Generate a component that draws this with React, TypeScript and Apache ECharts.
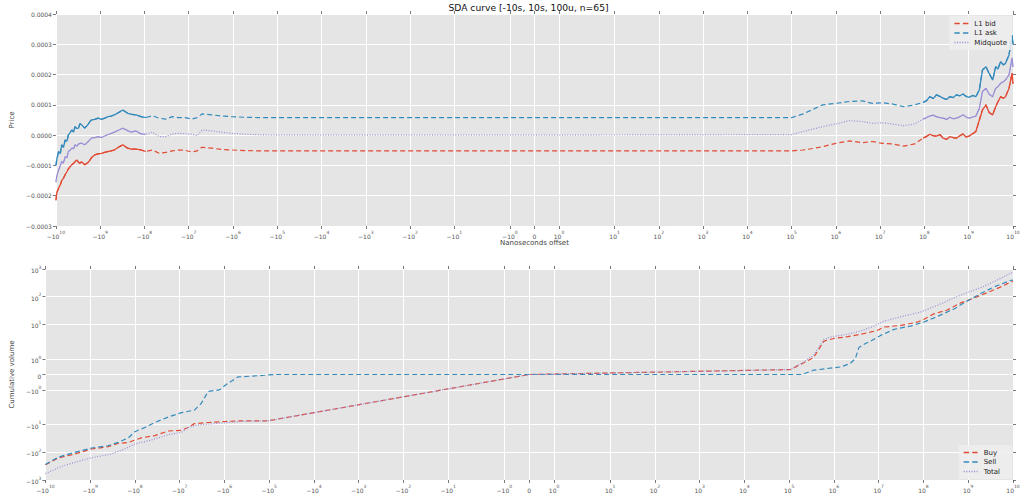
import React, { useEffect, useRef } from 'react';
import * as echarts from 'echarts';

// ---------- text ----------
const TITLE = 'SDA curve [-10s, 10s, 100u, n=65]';
const X_NAME = 'Nanoseconds offset';
const PRICE_NAME = 'Price';
const VOLUME_NAME = 'Cumulative volume';
const PRICE_SERIES = ['L1 bid', 'L1 ask', 'Midquote'];
const VOLUME_SERIES = ['Buy', 'Sell', 'Total'];

// ---------- tick values ----------
const X_TICKS = [
  -1e10, -1e9, -1e8, -1e7, -1e6, -1e5, -1e4, -1e3, -1e2, -1e1, -1, 0,
  1, 1e1, 1e2, 1e3, 1e4, 1e5, 1e6, 1e7, 1e8, 1e9, 1e10,
];
const VOL_TICKS = [-1000, -100, -10, -1, 0, 1, 10, 100, 1000];
const PRICE_MIN = -0.0003;
const PRICE_MAX = 0.0004;
const PRICE_STEP = 0.0001;

// ---------- top panel data (x in nanoseconds) ----------
const priceX = [
  -1e10, -9.55e9, -8.71e9, -7.94e9, -7.41e9, -6.76e9, -6.17e9, -5.62e9, -5.25e9, -4.79e9,
  -4.37e9, -3.98e9, -3.72e9, -3.39e9, -3.09e9, -2.88e9, -2.63e9, -2.24e9, -1.86e9, -1.7e9,
  -1.58e9, -1.32e9, -1.12e9, -9.33e8, -7.94e8, -6.61e8, -5.62e8, -4.79e8, -3.89e8, -3.09e8,
  -2.4e8, -2.0e8, -1.55e8, -1.2e8, -9.33e7, -6.61e7, -4.68e7, -3.31e7, -2.34e7, -1.7e7,
  -1.2e7, -8.51e6, -6.46e6, -5.01e6, -3.02e6, -1.82e6, -1.07e6, -5.5e5, -2.51e5, -1e5,
  -1e3, 0, 1e3, 1e5,
  1.82e5, 3.02e5, 5.01e5, 1e6, 2.0e6, 3.98e6, 6.61e6, 1.1e7, 1.86e7, 3.39e7,
  6.03e7, 9.33e7, 1.12e8, 1.32e8, 1.58e8, 1.86e8, 2.24e8, 2.63e8, 3.16e8, 3.72e8,
  4.47e8, 5.25e8, 6.31e8, 7.41e8, 8.71e8, 1.02e9, 1.23e9, 1.45e9, 1.74e9, 2.04e9,
  2.45e9, 2.88e9, 3.47e9, 4.07e9, 4.57e9, 5.25e9, 6.03e9, 6.76e9, 8.13e9, 9.55e9,
  1e10,
];
const askY = [
  -0.0001, -0.00008, -0.000054, -0.00006, -0.000032, -0.00004, -0.000016, -0.00002, 0, 0.000008,
  0.000017, 0.00001, 0.000028, 0.000022, 0.000023, 0.000038, 0.000034, 0.000023, 0.000036, 0.000045,
  0.00005, 0.000052, 0.000056, 0.000052, 0.000056, 0.000061, 0.000063, 0.000067, 0.000074, 0.000083,
  0.000072, 0.000069, 0.000067, 0.000061, 0.000058, 0.000064, 0.000056, 0.000053, 0.000061, 0.000058,
  0.000058, 0.000053, 0.000058, 0.00007, 0.000067, 0.000063, 0.000061, 0.000059, 0.000058, 0.000058,
  0.000058, 0.000058, 0.000058, 0.000058,
  0.00007, 0.000085, 0.0001, 0.000105, 0.000111, 0.000113, 0.000105, 0.000107, 0.000103, 0.000094,
  0.0001, 0.000108, 0.000114, 0.000127, 0.000121, 0.000133, 0.000128, 0.000122, 0.000118, 0.000127,
  0.000124, 0.000133, 0.00013, 0.000136, 0.000128, 0.000125, 0.000131, 0.000127, 0.00015, 0.000215,
  0.000226, 0.000204, 0.000182, 0.000226, 0.000218, 0.000243, 0.000232, 0.000237, 0.000265, 0.00033,
  0.0003,
];
const midY = [
  -0.000155, -0.000135, -0.000115, -0.0001, -0.000087, -0.000092, -0.000071, -0.000075, -0.000054, -0.00005,
  -0.000043, -0.000045, -0.000032, -0.000036, -0.00003, -0.000027, -0.000027, -0.000032, -0.000021, -0.000015,
  -0.00001, -0.000008, -0.000005, -0.000008, -0.000003, 0.000002, 0.000006, 0.00001, 0.000016, 0.000023,
  0.000015, 0.00001, 0.000014, 0.000004, 0.000003, 0.00001, -0.000005, -0.000005, 0.000004, 0.000006,
  0.000005, 0.000003, -0.000002, 0.000017, 0.000014, 0.00001, 0.000006, 0.000003, 0.000001, 0,
  0, 0, 0.000001, 0.000002,
  0.000012, 0.00002, 0.000028, 0.000037, 0.000048, 0.000045, 0.000039, 0.000041, 0.000037, 0.000031,
  0.000037, 0.000053, 0.000058, 0.000063, 0.000066, 0.000061, 0.000058, 0.000056, 0.000052, 0.000059,
  0.000054, 0.000056, 0.000061, 0.000067, 0.00006, 0.000056, 0.00006, 0.000063, 0.000089, 0.000144,
  0.000155, 0.000135, 0.000127, 0.000155, 0.00016, 0.000171, 0.000176, 0.000182, 0.000199, 0.000255,
  0.000225,
];
const bidY = [
  -0.000215, -0.00019, -0.000175, -0.000164, -0.00015, -0.000142, -0.00013, -0.00012, -0.000112, -0.000104,
  -0.000098, -0.000093, -0.000088, -0.000082, -0.00009, -0.000093, -0.000088, -0.000098, -0.00009, -0.000082,
  -0.000075, -0.000065, -0.000062, -0.00006, -0.000057, -0.000054, -0.000052, -0.000049, -0.00004, -0.000032,
  -0.000043, -0.000046, -0.000046, -0.000049, -0.000054, -0.000049, -0.00006, -0.000057, -0.000052, -0.000049,
  -0.00005, -0.000056, -0.000052, -0.00004, -0.000043, -0.000047, -0.000049, -0.000051, -0.000052, -0.000052,
  -0.000052, -0.000052, -0.000052, -0.000052,
  -0.000049, -0.000044, -0.000038, -0.000027, -0.000019, -0.000025, -0.000021, -0.000027, -0.000029, -0.000036,
  -0.000029, -0.00001, -0.000004, 0.000003, -0.000002, -0.000003, 0.000002, -0.00001, -0.000014, -0.000005,
  -0.000008, -0.00001, -0.000002, 0.000004, -0.000006, -0.000003, 0.000005, 0.000012, 0.00005, 0.000083,
  0.0001, 0.000075, 0.000067, 0.000094, 0.00011, 0.000127, 0.000122, 0.000127, 0.000155, 0.000205,
  0.00017,
];

// ---------- bottom panel data ----------
const sellX = [
  -1e10, -5.2e9, -2.2e9, -9.3e8, -4.0e8, -2.4e8, -1.4e8, -1.0e8, -6.0e7, -3.6e7,
  -1.8e7, -9.1e6, -4.7e6, -3.3e6, -2.3e6, -1.3e6, -8.4e5, -5.0e5, -1.26e5, -8e4,
  0, 1.95e5, 3.5e5, 7.1e5, 1.4e6, 2.3e6, 3.0e6, 3.6e6, 4.7e6, 6.6e6,
  1.1e7, 2.2e7, 5.1e7, 1.0e8, 2.0e8, 4.8e8, 9.5e8, 1.9e9, 3.7e9, 8.7e9, 1e10,
];
const sellY = [
  -275, -150, -100, -70, -58, -44, -30, -18, -12.7, -8.4,
  -5.3, -3.7, -3.0, -1.88, -1.1, -1.0, -0.58, -0.16, -0.05, 0,
  0, 0, 0.28, 0.39, 0.49, 0.71, 1.04, 1.75, 1.97, 2.5,
  4.0, 6.6, 8.7, 12, 19, 36, 70, 130, 222, 385, 400,
];
const buyX = [
  -1e10, -5.2e9, -2.2e9, -9.3e8, -4.0e8, -2.4e8, -1.4e8, -7.2e7, -3.6e7, -1.8e7,
  -9.1e6, -6.5e6, -4.7e6, -2.3e6, -1.0e6, -4.3e5, -1.07e5, 0, 1.07e5, 2.1e5,
  3.5e5, 6.0e5, 1.0e6, 2.0e6, 4.0e6, 9.3e6, 1.3e7, 3.1e7, 7.2e7, 1.0e8,
  1.7e8, 3.4e8, 6.8e8, 1.1e9, 2.6e9, 5.2e9, 1e10,
];
const buyY = [
  -280, -160, -115, -76, -63, -48, -44, -30, -25, -17,
  -16, -12.7, -9.2, -8.4, -7.7, -7.3, -7.3, 0, 0.32, 0.76,
  1.1, 2.5, 3.1, 3.6, 4.4, 6.0, 8.0, 9.2, 12, 15,
  24, 33, 60, 79, 138, 222, 370,
];
const totalX = [
  -1e10, -4.4e9, -2.2e9, -9.3e8, -3.4e8, -1.7e8, -1.0e8, -4.3e7, -1.8e7, -9.1e6,
  -6.5e6, -3.9e6, -1.66e6, -4.3e5, -1.07e5, 0, 1.07e5, 2.1e5, 3.5e5, 6.0e5,
  9.1e5, 2.0e6, 4.0e6, 7.8e6, 1.3e7, 3.6e7, 8.7e7, 2.0e8, 4.8e8, 9.5e8,
  2.2e9, 4.5e9, 1e10,
];
const totalY = [
  -590, -325, -230, -158, -115, -76, -50, -36, -23, -19,
  -12.7, -10.2, -9.2, -7.7, -7.3, 0, 0.32, 0.82, 1.25, 2.9,
  3.6, 4.4, 5.8, 8.7, 13, 20, 28, 48, 91, 140,
  234, 404, 780,
];

// ---------- style ----------
const RED = '#E24A33';
const BLUE = '#348ABD';
const PURPLE = '#988ED5';
const FONT = 'DejaVu Sans';
const DASH_ICON = 'path://M0,0h5v1.2h-5zM8,0h5v1.2h-5z';
const DOT_ICON = 'path://M0,0h1v1.2h-1zM2.4,0h1v1.2h-1zM4.8,0h1v1.2h-1zM7.2,0h1v1.2h-1zM9.6,0h1v1.2h-1zM12,0h1v1.2h-1z';

// symmetric log scale (linthresh 2, linscale 1, base 10)
const LT = 2;
const LS = 1 / (1 - 1 / 10);
const sl = (v: number) => {
  const a = Math.abs(v);
  if (a <= LT) return v * LS;
  return Math.sign(v) * LT * (LS + Math.log10(a / LT));
};

const powLabel = (v: number) => {
  if (v === 0) return '{n|0}';
  const e = Math.round(Math.log10(Math.abs(v)));
  return `{n|${v < 0 ? '\u2212' : ''}10}{s|${e}}`;
};
const makeFormatter = (ticks: number[]) => (val: number) => {
  let best = ticks[0];
  let bd = Infinity;
  for (const t of ticks) {
    const d = Math.abs(sl(t) - val);
    if (d < bd) { bd = d; best = t; }
  }
  return powLabel(best);
};

const rich = {
  n: { fontSize: 6, lineHeight: 9, verticalAlign: 'bottom', color: '#555', fontFamily: FONT },
  s: { fontSize: 4.5, lineHeight: 5, verticalAlign: 'top', color: '#555', fontFamily: FONT },
};

const pts = (xs: number[], ys: number[]) => xs.map((x, i) => [sl(x), ys[i]]);
const ptsLog = (xs: number[], ys: number[]) => xs.map((x, i) => [sl(x), sl(ys[i])]);
const subset = (xs: number[], ys: number[], f: (x: number) => boolean) => {
  const ox: number[] = [];
  const oy: number[] = [];
  xs.forEach((x, i) => { if (f(x)) { ox.push(x); oy.push(ys[i]); } });
  return pts(ox, oy);
};

const XMAX = sl(1e10);
const YVMAX = sl(1000);
const xTickT = X_TICKS.map(sl);
const volTickT = VOL_TICKS.map(sl);

const tickStyle = { show: true, inside: false, length: 3, lineStyle: { color: '#555', width: 0.8 } };
const splitStyle = { show: true, lineStyle: { color: '#ffffff', width: 1 } };
const noLine = { show: false, onZero: false };

function buildOption() {
  const xMain = (grid: number, name?: string) => ({
    type: 'value', gridIndex: grid, min: -XMAX, max: XMAX, position: 'bottom',
    name, nameLocation: 'middle', nameGap: 13,
    nameTextStyle: { fontSize: 7, color: '#444', fontFamily: FONT },
    axisLine: noLine,
    axisTick: { ...tickStyle, customValues: xTickT },
    axisLabel: { show: true, customValues: xTickT, margin: 4, formatter: makeFormatter(X_TICKS), rich },
    splitLine: splitStyle,
  });
  const xTop = (grid: number) => ({
    type: 'value', gridIndex: grid, min: -XMAX, max: XMAX, position: 'top',
    axisLine: noLine,
    axisTick: { ...tickStyle, customValues: xTickT },
    axisLabel: { show: false },
    splitLine: { show: false },
  });

  const lineSeries = (name: string, data: any[], color: string, type: any, xi: number, yi: number, width = 1.2, z = 2) => ({
    type: 'line', name, data, xAxisIndex: xi, yAxisIndex: yi, symbol: 'none', showSymbol: false,
    lineStyle: { color, width, type }, itemStyle: { color }, z, silent: true,
  });

  const DASH = [5, 3];
  const DOT = [1, 1.6];
  const farLeft = (x: number) => x <= -9e7;
  const farRight = (x: number) => x >= 9e7;

  const legendBase = {
    orient: 'vertical', right: 12, itemWidth: 14, itemHeight: 1.5, itemGap: 2.5,
    backgroundColor: 'rgba(238,238,238,0.85)',
    textStyle: { fontSize: 7, color: '#222', fontFamily: FONT, padding: [0, 0, 0, 1] },
  };

  return {
    animation: false,
    backgroundColor: '#ffffff',
    textStyle: { fontFamily: FONT },
    graphic: [
      {
        type: 'text', x: 528.5, y: 3, z: 100,
        style: {
          text: TITLE, textAlign: 'center', textVerticalAlign: 'top',
          fontSize: 9.2, fontFamily: FONT, fill: '#111',
        },
      },
    ],
    grid: [
      { left: 44, right: 11, top: 14, height: 212, show: true, backgroundColor: '#E5E5E5', borderWidth: 0 },
      { left: 44, right: 11, top: 269, height: 211, show: true, backgroundColor: '#E5E5E5', borderWidth: 0 },
    ],
    xAxis: [xMain(0, X_NAME), xTop(0), xMain(1), xTop(1)],
    yAxis: [
      {
        type: 'value', gridIndex: 0, min: PRICE_MIN, max: PRICE_MAX, interval: PRICE_STEP,
        name: PRICE_NAME, nameLocation: 'middle', nameGap: 33,
        nameTextStyle: { fontSize: 7, color: '#444', fontFamily: FONT },
        axisLine: noLine, axisTick: tickStyle,
        axisLabel: {
          margin: 4, fontSize: 6, color: '#555', fontFamily: FONT,
          formatter: (v: number) => v.toFixed(4).replace('-', '\u2212'),
        },
        splitLine: splitStyle,
      },
      {
        type: 'value', gridIndex: 0, position: 'right', min: PRICE_MIN, max: PRICE_MAX, interval: PRICE_STEP,
        axisLine: noLine, axisTick: tickStyle, axisLabel: { show: false }, splitLine: { show: false },
      },
      {
        type: 'value', gridIndex: 1, min: -YVMAX, max: YVMAX,
        name: VOLUME_NAME, nameLocation: 'middle', nameGap: 22,
        nameTextStyle: { fontSize: 7, color: '#444', fontFamily: FONT },
        axisLine: noLine,
        axisTick: { ...tickStyle, customValues: volTickT },
        axisLabel: { customValues: volTickT, margin: 4, formatter: makeFormatter(VOL_TICKS), rich },
        splitLine: splitStyle,
      },
      {
        type: 'value', gridIndex: 1, position: 'right', min: -YVMAX, max: YVMAX,
        axisLine: noLine,
        axisTick: { ...tickStyle, customValues: volTickT },
        axisLabel: { show: false }, splitLine: { show: false },
      },
    ],
    legend: [
      {
        ...legendBase, top: 16, padding: [4, 5, 4, 5],
        data: [
          { name: PRICE_SERIES[0], icon: DASH_ICON },
          { name: PRICE_SERIES[1], icon: DASH_ICON },
          { name: PRICE_SERIES[2], icon: DOT_ICON },
        ],
      },
      {
        ...legendBase, top: 445, padding: [4, 12, 4, 5],
        data: [
          { name: VOLUME_SERIES[0], icon: DASH_ICON },
          { name: VOLUME_SERIES[1], icon: DASH_ICON },
          { name: VOLUME_SERIES[2], icon: DOT_ICON },
        ],
      },
    ],
    series: [
      lineSeries(PRICE_SERIES[0], pts(priceX, bidY), RED, DASH, 0, 0),
      lineSeries(PRICE_SERIES[1], pts(priceX, askY), BLUE, DASH, 0, 0),
      lineSeries(PRICE_SERIES[2], pts(priceX, midY), PURPLE, DOT, 0, 0),
      lineSeries(PRICE_SERIES[0], subset(priceX, bidY, farLeft), RED, 'solid', 0, 0, 1.3, 3),
      lineSeries(PRICE_SERIES[0], subset(priceX, bidY, farRight), RED, 'solid', 0, 0, 1.3, 3),
      lineSeries(PRICE_SERIES[1], subset(priceX, askY, farLeft), BLUE, 'solid', 0, 0, 1.3, 3),
      lineSeries(PRICE_SERIES[1], subset(priceX, askY, farRight), BLUE, 'solid', 0, 0, 1.3, 3),
      lineSeries(PRICE_SERIES[2], subset(priceX, midY, farLeft), PURPLE, 'solid', 0, 0, 1.2, 3),
      lineSeries(PRICE_SERIES[2], subset(priceX, midY, farRight), PURPLE, 'solid', 0, 0, 1.2, 3),
      lineSeries(VOLUME_SERIES[0], ptsLog(buyX, buyY), RED, DASH, 2, 2),
      lineSeries(VOLUME_SERIES[1], ptsLog(sellX, sellY), BLUE, DASH, 2, 2),
      lineSeries(VOLUME_SERIES[2], ptsLog(totalX, totalY), PURPLE, DOT, 2, 2),
    ],
  };
}

export default function App() {
  const ref = useRef<HTMLDivElement>(null);
  useEffect(() => {
    if (!ref.current) return;
    const chart = echarts.init(ref.current, null, { renderer: 'svg' });
    chart.setOption(buildOption() as any);
    return () => chart.dispose();
  }, []);
  return (
    <div
      ref={ref}
      style={{ position: 'absolute', left: 0, top: 0, width: 1024, height: 496 }}
    />
  );
}
